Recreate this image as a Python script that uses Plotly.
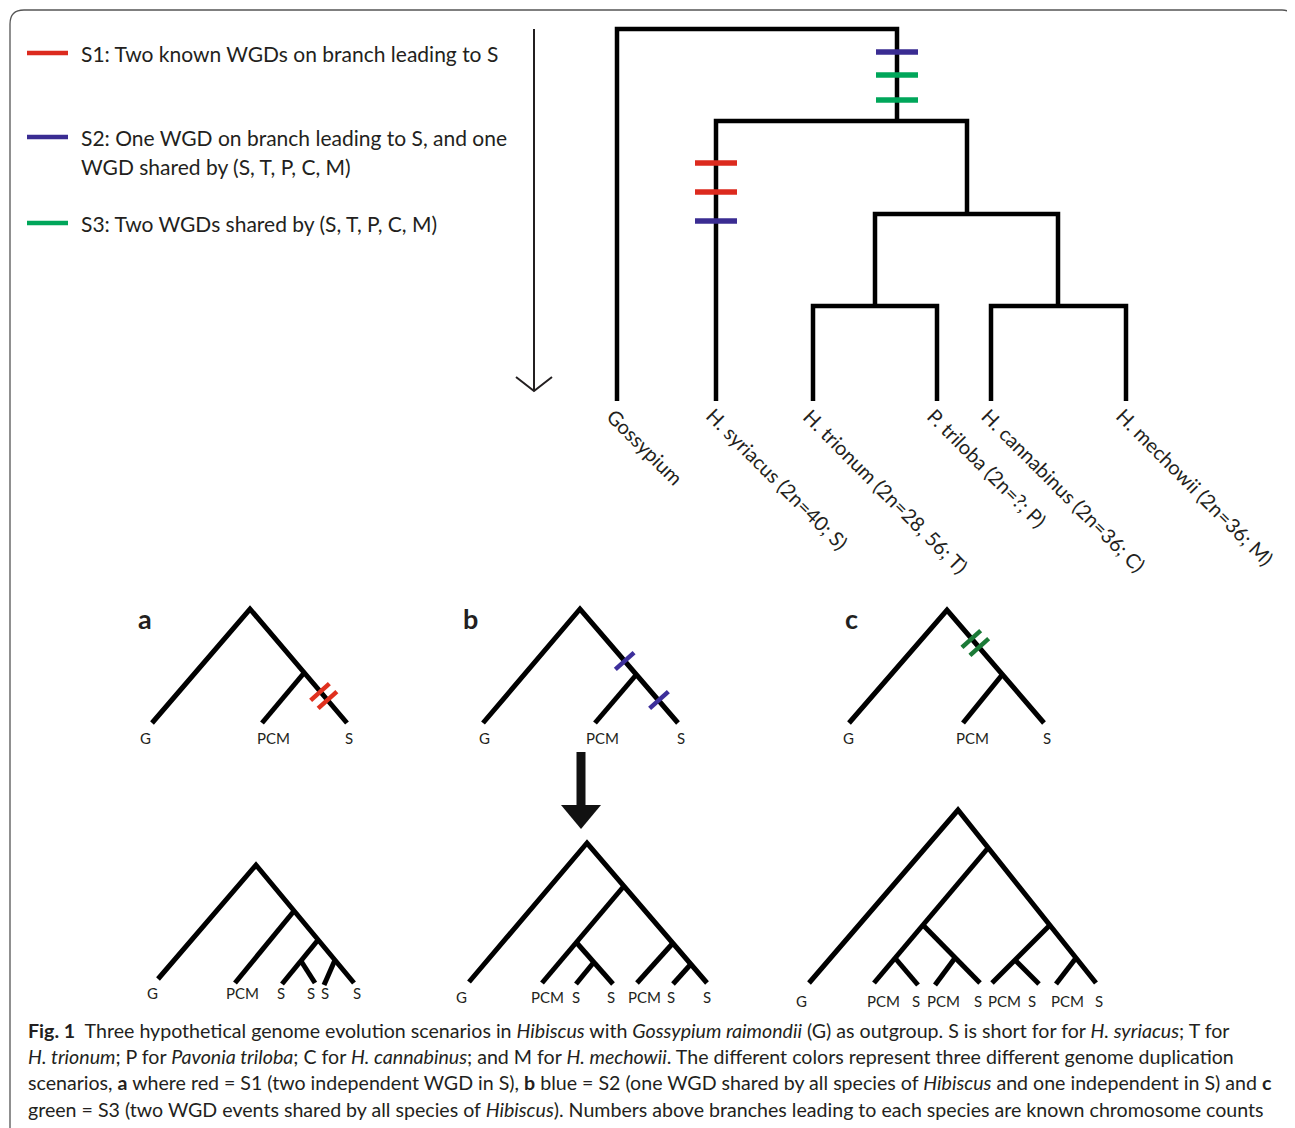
import plotly.graph_objects as go

# ---------------- data ----------------
# Legend
LEGEND_COLORS = ["#dc2a1e", "#3a2c92", "#00a65a"]
LEGEND_Y = [53, 137, 223]
LEGEND_TEXT = [
    ["S1: Two known WGDs on branch leading to S"],
    ["S2: One WGD on branch leading to S, and one", "WGD shared by (S, T, P, C, M)"],
    ["S3: Two WGDs shared by (S, T, P, C, M)"],
]

# Big cladogram (elbow joints)
ELBOW_LEFT_X = [617, 716, 875, 813, 991]
ELBOW_RIGHT_X = [897, 967, 1058, 937, 1126]
ELBOW_Y = [29, 121, 214, 306, 306]
ELBOW_LEFT_END = [401, 401, 306, 401, 401]
ELBOW_RIGHT_END = [121, 214, 306, 401, 401]
LEAF_X = [617, 716, 813, 937, 991, 1126]
LEAF_LABELS = ["Gossypium", "H. syriacus (2n=40; S)", "H. trionum (2n=28, 56; T)",
               "P. triloba (2n=?; P)", "H. cannabinus (2n=36; C)", "H. mechowii (2n=36; M)"]

# WGD marks on the big tree
WGD_X = [897, 897, 897, 716, 716, 716]
WGD_Y = [52, 75, 100, 163, 192, 221]
WGD_COLOR = ["#3a2c92", "#00a65a", "#00a65a", "#dc2a1e", "#dc2a1e", "#3a2c92"]

# Small scenario trees (node coords + polylines of node indices)
TA_X = [250, 152, 304, 262, 347]
TA_Y = [609, 723, 673, 723, 723]
TA_PATHS = [[1, 0, 4], [2, 3]]
TA_LABELS = ["G", "PCM", "S"]
TA_LABEL_X = [145, 273, 349]

TB_X = [580, 483, 636, 595, 678]
TB_Y = [609, 723, 675, 723, 723]
TB_PATHS = [[1, 0, 4], [2, 3]]
TB_LABELS = ["G", "PCM", "S"]
TB_LABEL_X = [484, 602, 681]

TC_X = [947, 849, 1002, 963, 1044]
TC_Y = [610, 723, 675, 723, 723]
TC_PATHS = [[1, 0, 4], [2, 3]]
TC_LABELS = ["G", "PCM", "S"]
TC_LABEL_X = [848, 972, 1047]

# scenario tick marks
TICK_X = [320, 327.5, 624.7, 659, 971.3, 979.3]
TICK_Y = [692, 700, 661, 700, 639, 647]
TICK_COLOR = ["#e0301e", "#e0301e", "#3d2f9b", "#3d2f9b", "#1b7a37", "#1b7a37"]

# Resulting trees (bottom row)
BA_X = [256, 158, 294, 235, 318, 301, 335, 282, 315, 324, 354]
BA_Y = [865, 979, 911, 983, 940, 961, 960, 984, 983, 985, 983]
BA_PATHS = [[1, 0, 10], [2, 3], [4, 5, 7], [5, 8], [6, 9]]
BA_LABELS = ["G", "PCM", "S", "S", "S", "S"]
BA_LABEL_X = [152, 242, 281, 311, 324.5, 357]

BB_X = [587, 469, 624, 576, 542, 594, 576, 613, 673, 637, 691, 673, 707]
BB_Y = [843, 982, 886, 942, 983, 962, 984, 984, 943, 983, 964, 984, 983]
BB_PATHS = [[1, 0, 12], [2, 4], [3, 7], [5, 6], [8, 9], [10, 11]]
BB_LABELS = ["G", "PCM", "S", "S", "PCM", "S", "S"]
BB_LABEL_X = [461, 547, 576, 611, 644, 671, 707]

BC_X = [958, 809, 988, 923, 874, 895, 918, 955, 980, 935, 1050, 992, 1015, 1039, 1076, 1056, 1096]
BC_Y = [810, 983, 848, 925, 983, 958, 985, 958, 983, 985, 925, 983, 960, 984, 958, 984, 983]
BC_PATHS = [[1, 0, 16], [2, 4], [3, 8], [5, 6], [7, 9], [10, 11], [12, 13], [14, 15]]
BC_LABELS = ["G", "PCM", "S", "PCM", "S", "PCM", "S", "PCM", "S"]
BC_LABEL_X = [801, 883, 916, 943.5, 978, 1004, 1032, 1067, 1099]

PANEL_LETTERS = ["a", "b", "c"]
PANEL_LETTER_X = [145, 470, 851]

CAPTION = [
    "<b>Fig. 1</b>  Three hypothetical genome evolution scenarios in <i>Hibiscus</i> with <i>Gossypium raimondii</i> (G) as outgroup. S is short for for <i>H. syriacus</i>; T for",
    "<i>H. trionum</i>; P for <i>Pavonia triloba</i>; C for <i>H. cannabinus</i>; and M for <i>H. mechowii</i>. The different colors represent three different genome duplication",
    "scenarios, <b>a</b> where red = S1 (two independent WGD in S), <b>b</b> blue = S2 (one WGD shared by all species of <i>Hibiscus</i> and one independent in S) and <b>c</b>",
    "green = S3 (two WGD events shared by all species of <i>Hibiscus</i>). Numbers above branches leading to each species are known chromosome counts",
]
CAPTION_Y = [1030, 1056, 1082, 1109]

# ---------------- figure ----------------
PAGE_W, PAGE_H = 1295, 1128
OFF = 8  # default body margin of the html page
FONT = "Lato"
TXT = "#231f20"
fig = go.Figure()


def line_trace(xs, ys, color="black", width=4.5):
    fig.add_trace(go.Scatter(x=xs, y=ys, mode="lines", line=dict(color=color, width=width),
                             hoverinfo="skip", showlegend=False))


# legend swatches
for c, y in zip(LEGEND_COLORS, LEGEND_Y):
    line_trace([27, 68], [y, y], color=c, width=4.5)
ann = []
for lines, y in zip(LEGEND_TEXT, LEGEND_Y):
    for k, t in enumerate(lines):
        ann.append(dict(x=79, y=y + 29 * k, text=t, xanchor="left", yanchor="middle",
                        showarrow=False, font=dict(family=FONT, size=21, color=TXT)))

# big tree
for lx, rx, y, le, re in zip(ELBOW_LEFT_X, ELBOW_RIGHT_X, ELBOW_Y, ELBOW_LEFT_END, ELBOW_RIGHT_END):
    line_trace([lx, lx, rx, rx], [le, y, y, re], width=4.5)

fig.add_trace(go.Scatter(x=WGD_X, y=WGD_Y, mode="markers", hoverinfo="skip", showlegend=False,
                         marker=dict(symbol="line-ew", size=30, color=WGD_COLOR,
                                     line=dict(color=WGD_COLOR, width=5.5))))

for x, t in zip(LEAF_X, LEAF_LABELS):
    ann.append(dict(x=x - 17, y=401, text=t, textangle=45, xanchor="left", yanchor="top",
                    showarrow=False, font=dict(family=FONT, size=20, color=TXT)))


def add_tree(xs, ys, paths, width=5):
    for p in paths:
        line_trace([xs[i] for i in p], [ys[i] for i in p], width=width)


for xs, ys, ps in [(TA_X, TA_Y, TA_PATHS), (TB_X, TB_Y, TB_PATHS), (TC_X, TC_Y, TC_PATHS),
                   (BA_X, BA_Y, BA_PATHS), (BB_X, BB_Y, BB_PATHS), (BC_X, BC_Y, BC_PATHS)]:
    add_tree(xs, ys, ps)

fig.add_trace(go.Scatter(x=TICK_X, y=TICK_Y, mode="markers", hoverinfo="skip", showlegend=False,
                         marker=dict(symbol="line-ew", size=18, angle=-42, color=TICK_COLOR,
                                     line=dict(color=TICK_COLOR, width=4.5))))

for labels, lxs, y in [(TA_LABELS, TA_LABEL_X, 738), (TB_LABELS, TB_LABEL_X, 738),
                       (TC_LABELS, TC_LABEL_X, 738), (BA_LABELS, BA_LABEL_X, 993),
                       (BB_LABELS, BB_LABEL_X, 997), (BC_LABELS, BC_LABEL_X, 1001)]:
    for t, x in zip(labels, lxs):
        ann.append(dict(x=x, y=y, text=t, xanchor="center", yanchor="middle", showarrow=False,
                        font=dict(family=FONT, size=15, color=TXT)))

for t, x in zip(PANEL_LETTERS, PANEL_LETTER_X):
    ann.append(dict(x=x, y=618, text="<b>" + t + "</b>", xanchor="center", yanchor="middle",
                    showarrow=False, font=dict(family=FONT, size=27, color=TXT)))

for t, y in zip(CAPTION, CAPTION_Y):
    ann.append(dict(x=26, y=y, text=t, xanchor="left", yanchor="middle", showarrow=False,
                    font=dict(family=FONT, size=19.6, color=TXT)))

shapes = [
    # frame
    dict(type="path", path="M 10,1140 L 10,24 Q 10,10 24,10 L 1282,10 Q 1293,10 1294,22 L 1294,1140",
         line=dict(color="#555555", width=1.3), layer="below"),
    # thin time arrow
    dict(type="line", x0=534, x1=534, y0=29, y1=390, line=dict(color=TXT, width=2)),
    dict(type="path", path="M 516,377 L 534,391 L 552,377", line=dict(color=TXT, width=2)),
    # thick arrow
    dict(type="rect", x0=576.5, x1=585.5, y0=752, y1=806, fillcolor="#111111", line=dict(width=0)),
    dict(type="path", path="M 561,805 L 601,805 L 581,829 Z", fillcolor="#111111", line=dict(width=0)),
]

fig.update_layout(
    width=PAGE_W - OFF, height=PAGE_H - OFF, autosize=False,
    margin=dict(l=0, r=0, t=0, b=0, pad=0),
    paper_bgcolor="white", plot_bgcolor="white",
    xaxis=dict(range=[OFF, PAGE_W], visible=False, fixedrange=True),
    yaxis=dict(range=[PAGE_H, OFF], visible=False, fixedrange=True),
    annotations=ann, shapes=shapes, showlegend=False,
)
fig.write_html("out.html")
